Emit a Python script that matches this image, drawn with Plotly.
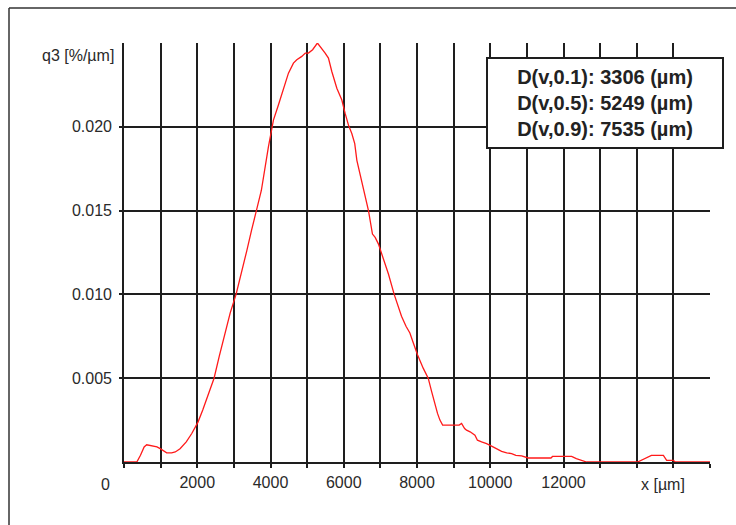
import plotly.graph_objects as go

# ---------------- data ----------------
size_um = [0, 350, 450, 550, 620, 750, 900, 1000, 1100, 1165, 1300, 1400, 1530, 1700,
           1850, 2020, 2150, 2276, 2459, 2600, 2760, 2900, 3060, 3200, 3352, 3480,
           3607, 3750, 3943, 4035, 4080, 4216, 4353, 4490, 4626, 4718, 4855, 4950,
           5036, 5150, 5281, 5355, 5492, 5582, 5674, 5811, 5948, 6038, 6129, 6220,
           6300, 6358, 6539, 6675, 6784, 6858, 6948, 7040, 7222, 7377, 7495, 7577,
           7700, 7806, 7900, 8014, 8169, 8306, 8400, 8489, 8560, 8626, 8700, 8762,
           9035, 9150, 9217, 9300, 9353, 9450, 9582, 9650, 9763, 9900, 10036, 10150,
           10310, 10450, 10583, 10700, 10856, 11038, 11658, 11700, 12222, 12350,
           12486, 12631, 14025, 14200, 14400, 14727, 14817, 15000, 15050, 16000]
q3 = [0, 0, 0.0004, 0.0009, 0.00103, 0.00095, 0.0009, 0.00078, 0.00062, 0.00055,
      0.00055, 0.0006, 0.00079, 0.0012, 0.0017, 0.00238, 0.0031, 0.0039, 0.0050,
      0.0063, 0.0077, 0.0089, 0.0100, 0.0112, 0.0126, 0.0138, 0.0150, 0.0162,
      0.0188, 0.0200, 0.0204, 0.0213, 0.0223, 0.0232, 0.0238, 0.0240, 0.0242,
      0.0244, 0.0244, 0.0246, 0.0250, 0.0248, 0.0244, 0.0241, 0.0233, 0.0223,
      0.0216, 0.0208, 0.0201, 0.0196, 0.0190, 0.0180, 0.0162, 0.0150, 0.0136,
      0.0134, 0.0130, 0.0124, 0.0112, 0.0100, 0.0092, 0.0087, 0.0081, 0.0077,
      0.0071, 0.0064, 0.0056, 0.0050, 0.0042, 0.0034, 0.0029, 0.0025, 0.0022,
      0.0022, 0.0022, 0.0022, 0.0023, 0.0020, 0.0019, 0.0018, 0.0016, 0.0013,
      0.0012, 0.0011, 0.00095, 0.0008, 0.00063, 0.00055, 0.0005, 0.0004, 0.00036,
      0.00024, 0.00024, 0.00033, 0.00033, 0.0002, 0.00012, 0, 0, 0.0002, 0.0004,
      0.0004, 0.0001, 0.0001, 0, 0]

x_tickvals = list(range(0, 16001, 1000))
x_ticktext = ["", "", "2000", "", "4000", "", "6000", "", "8000", "", "10000", "",
              "12000", "", "", "", ""]
y_tickvals = [0.005, 0.010, 0.015, 0.020]
y_ticktext = ["0.005", "0.010", "0.015", "0.020"]

stats_lines = ["D(v,0.1): 3306 (µm)", "D(v,0.5): 5249 (µm)", "D(v,0.9): 7535 (µm)"]
y_title = "q3 [%/µm]"
x_title = "x [µm]"
origin_label = "0"

# ---------------- layout geometry (page pixels) ----------------
OFF = 0  # body margin is removed by the post script below
PL, PR, PT, PB = 124, 710, 43, 462
W, H = 736, 525


def px(xp):
    return (xp - PL) / (PR - PL)


def py(yp):
    return (PB - yp) / (PB - PT)


FONT = "Liberation Sans, Arial, Helvetica, sans-serif"
GRID = "#1e1e1e"
TXT = "#2a2a2a"

fig = go.Figure()
fig.add_trace(go.Scatter(x=size_um, y=q3, mode="lines",
                         line=dict(color="#ff1a1a", width=1.3),
                         hoverinfo="x+y", showlegend=False))

fig.update_layout(
    width=W, height=H,
    margin=dict(l=PL - OFF, r=(OFF + W) - PR, t=PT - OFF, b=(OFF + H) - PB, pad=0),
    paper_bgcolor="white", plot_bgcolor="white",
    font=dict(family=FONT, size=16, color=TXT),
    xaxis=dict(range=[0, 16000], tickmode="array", tickvals=x_tickvals,
               ticktext=x_ticktext, showgrid=True, gridcolor=GRID, gridwidth=1.6,
               zeroline=False, showline=True, linecolor=GRID, linewidth=1.6,
               ticks="outside", ticklen=4, tickcolor=GRID, tickwidth=1.6,
               ticklabelstandoff=1, tickfont=dict(size=16, color=TXT)),
    yaxis=dict(range=[0, 0.025], tickmode="array", tickvals=y_tickvals,
               ticktext=y_ticktext, showgrid=True, gridcolor=GRID, gridwidth=1.6,
               zeroline=False, showline=True, linecolor=GRID, linewidth=1.6,
               ticks="outside", ticklen=3, tickcolor=GRID, tickwidth=1.6,
               ticklabelstandoff=4, tickfont=dict(size=16, color=TXT)),
)

# outer frame: only its left and top edges fall inside the picture
frame_line = dict(color="#333333", width=1.5)
fig.add_shape(type="line", xref="paper", yref="paper",
              x0=px(9), x1=px(9), y0=py(8), y1=py(OFF + H), line=frame_line, layer="above")
fig.add_shape(type="line", xref="paper", yref="paper",
              x0=px(9), x1=px(OFF + W), y0=py(8), y1=py(8), line=frame_line, layer="above")

fig.add_annotation(text=y_title, xref="paper", yref="paper", x=px(116), y=py(55.5),
                   xanchor="right", yanchor="middle", showarrow=False,
                   font=dict(size=16, color=TXT))
fig.add_annotation(text=origin_label, xref="paper", yref="paper", x=px(105), y=py(484),
                   xanchor="center", yanchor="middle", showarrow=False,
                   font=dict(size=16, color=TXT))
fig.add_annotation(text=x_title, xref="paper", yref="paper", x=px(663), y=py(484),
                   xanchor="center", yanchor="middle", showarrow=False,
                   font=dict(size=16, color=TXT))
fig.add_annotation(text="<b>" + "<br>".join(stats_lines) + "</b>",
                   xref="paper", yref="paper", x=px(604.5), y=py(102.7),
                   xanchor="center", yanchor="middle", showarrow=False,
                   width=234, height=88, align="center", valign="middle",
                   bgcolor="white", bordercolor="#1e1e1e", borderwidth=2, borderpad=0,
                   font=dict(size=20, color="#222222"))

fig.write_html(
    "out.html",
    config={"displayModeBar": False},
    post_script=("document.body.style.margin='0';"
                 "document.body.style.overflow='hidden';"
                 "document.documentElement.style.overflow='hidden';"),
)
